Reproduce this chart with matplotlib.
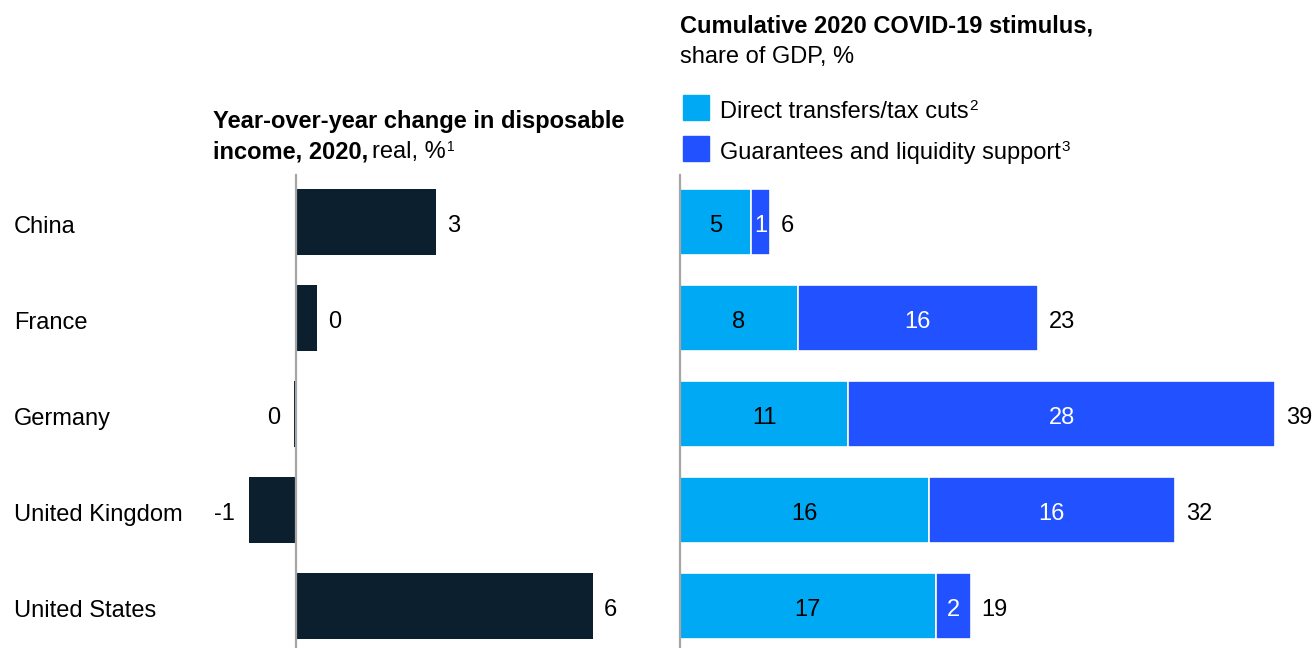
import matplotlib.pyplot as plt
from matplotlib.transforms import blended_transform_factory

plt.rcParams['font.family'] = ['Liberation Sans', 'DejaVu Sans']

# data
countries = ['China', 'France', 'Germany', 'United Kingdom', 'United States']
income_change = [3.0, 0.45, -0.04, -1.0, 6.36]      # yoy change in disposable income, real %
direct_transfers = [4.65, 7.7, 11.0, 16.25, 16.7]   # share of GDP, %
guarantees = [1.2, 15.7, 27.9, 16.1, 2.3]           # share of GDP, %

NAVY = '#0B1F2E'
LIGHT = '#00A9F4'
BLUE = '#2251FF'
GREY = '#A6A6A6'

W, H = 1314, 648
fig = plt.figure(figsize=(W / 100, H / 100), dpi=100)
FS = 17
BASE = 10   # baseline drop (px) below the bar centre for row labels


def px_axes(x0, x1, y0, y1):
    # axes placed by pixel box (y measured from top)
    return fig.add_axes([x0 / W, 1 - y1 / H, (x1 - x0) / W, (y1 - y0) / H])


def rich_line(x, y, parts):
    # draw text pieces one after another on a common baseline
    r = fig.canvas.get_renderer()
    for s, kw in parts:
        rise = kw.pop('rise', 0)
        gap = kw.pop('gap', 0)
        t = fig.text(x / W, 1 - (y - rise) / H, s, va='baseline', ha='left',
                     color='black', **kw)
        x += t.get_window_extent(r).width + gap


def row_label(ax, x, y, s, dx=0, ha='left', color='black', coords='data', drop=BASE):
    ax.annotate(s, xy=(x, y), xycoords=coords, xytext=(dx, -drop), textcoords='offset pixels',
                ha=ha, va='baseline', fontsize=FS, color=color, annotation_clip=False)


row_top, row_bot = 175, 648
yl = ((row_bot - 222) / 96, (row_top - 222) / 96)
bar_h = 0.69

# left panel: disposable income
px_left = 46.7
ax1 = px_axes(240, 660, row_top, row_bot)
ax1.set_xlim((240 - 296) / px_left, (660 - 296) / px_left)
ax1.set_ylim(*yl)
ypos = list(range(len(countries)))
ax1.barh(ypos, income_change, height=bar_h, color=NAVY, zorder=2)
ax1.axvline(0, color=GREY, lw=1.6, zorder=3, clip_on=False)
for y, v in zip(ypos, income_change):
    if v > 0.01:
        row_label(ax1, v, y, f'{round(v):d}', dx=11)
    else:
        row_label(ax1, v, y, f'{round(v):d}', dx=-14, ha='right')

lab_tr = blended_transform_factory(fig.transFigure, ax1.transData)
for y, name in zip(ypos, countries):
    row_label(ax1, 14 / W, y, name, coords=lab_tr, drop=11)

# right panel: stimulus, stacked
px_right = 15.3
ax2 = px_axes(680, W, row_top, row_bot)
ax2.set_xlim(0, (W - 680) / px_right)
ax2.set_ylim(*yl)
ax2.barh(ypos, direct_transfers, height=bar_h, color=LIGHT, edgecolor='white', lw=1.2, zorder=2)
ax2.barh(ypos, guarantees, left=direct_transfers, height=bar_h, color=BLUE,
         edgecolor='white', lw=1.2, zorder=2)
ax2.axvline(0, color=GREY, lw=1.6, zorder=3, clip_on=False)
for y, a, b in zip(ypos, direct_transfers, guarantees):
    row_label(ax2, a / 2, y, f'{round(a):d}', ha='center')
    row_label(ax2, a + b / 2, y, f'{round(b):d}', ha='center', color='white')
    row_label(ax2, a + b, y, f'{round(a + b):d}', dx=11)

for ax in (ax1, ax2):
    ax.axis('off')

# titles
rich_line(213, 128, [('Year-over-year change in disposable', dict(fontsize=FS, fontweight='bold'))])
rich_line(213, 158, [('income, 2020,', dict(fontsize=FS, fontweight='bold', gap=4)),
                     ('real, %', dict(fontsize=FS, gap=1)),
                     ('1', dict(fontsize=10, rise=7))])

rich_line(680, 32, [('Cumulative 2020 COVID-19 stimulus,', dict(fontsize=FS, fontweight='bold'))])
rich_line(680, 63, [('share of GDP, %', dict(fontsize=FS))])

# legend
for y0, col, label, note in [(95, LIGHT, 'Direct transfers/tax cuts', '2'),
                              (136, BLUE, 'Guarantees and liquidity support', '3')]:
    fig.patches.append(plt.Rectangle((683 / W, 1 - (y0 + 25) / H), 26 / W, 25 / H,
                                     transform=fig.transFigure, color=col))
    rich_line(720, y0 + 23, [(label, dict(fontsize=FS, gap=1)),
                             (note, dict(fontsize=11, rise=8))])

fig.savefig('out.png', dpi=100, facecolor='white')
